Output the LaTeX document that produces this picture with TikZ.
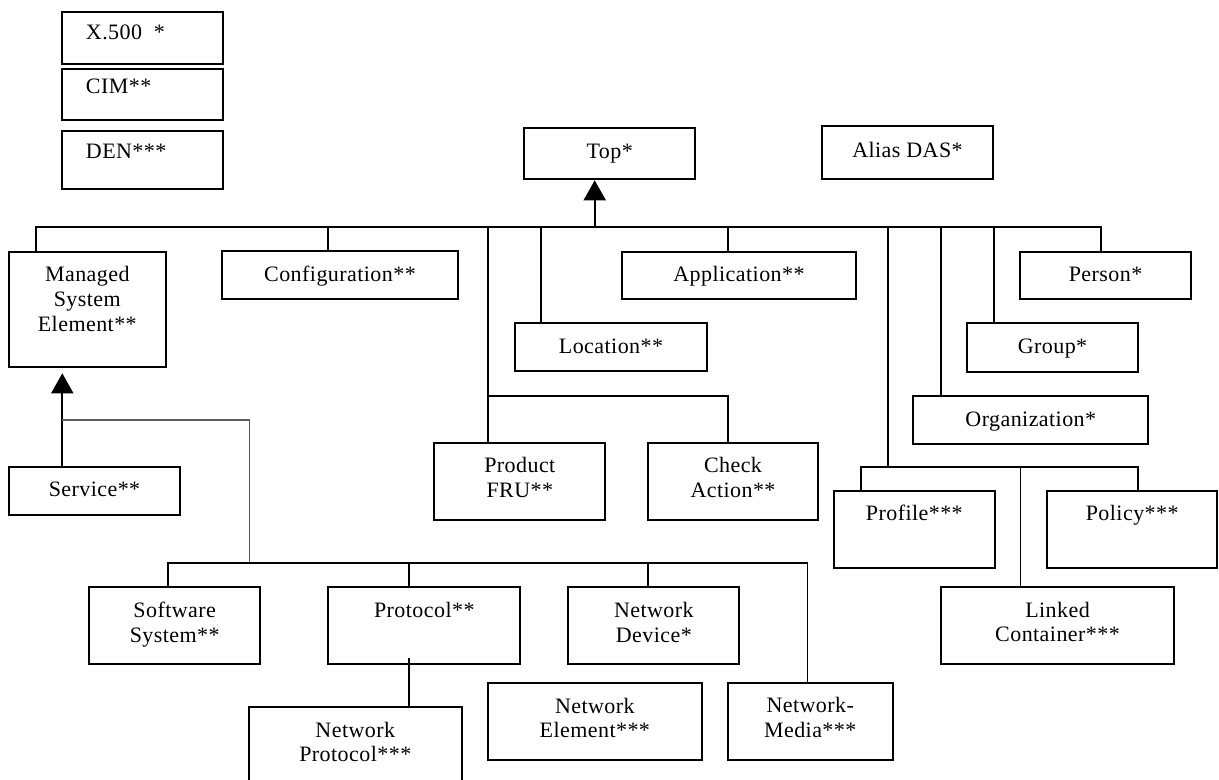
\documentclass[tikz,border=0pt]{standalone}
\usepackage{fontspec}
\setmainfont{Liberation Serif}[LetterSpace=2]
\usetikzlibrary{arrows.meta,fit}

\tikzset{
  box/.style={draw, line width=1.5pt, inner sep=0pt, rectangle},
  % anchored at the baseline of the last text line
  lbl/.style={anchor=base, align=center, inner sep=0pt,
    font=\fontsize{16.5}{18.5}\selectfont},
  keylbl/.style={anchor=base west, inner sep=0pt,
    font=\fontsize{16.5}{18.5}\selectfont},
  conn/.style={line width=1.4pt},
  thinconn/.style={line width=1pt, draw=black!65},
  isa/.style={line width=1.4pt, -{Triangle[width=16.5pt,length=15pt]}},
}

\begin{document}
\begin{tikzpicture}[x=0.75pt, y=-0.75pt]
\useasboundingbox (0,0) rectangle (1219,780);
\clip (0,0) rectangle (1219,780);

% key boxes
\node[box, fit={(62.3,12.3) (222.7,64.3)}] (kx) {};
\node[box, fit={(62.3,68.7) (222.7,120)}] (kcim) {};
\node[box, fit={(62.3,131) (222.7,189.3)}] (kden) {};
\node[keylbl] (kx-t) at (85.7,39.3) {X.500\ \ *};
\node[keylbl] (kcim-t) at (85.7,94) {CIM**};
\node[keylbl] (kden-t) at (85.7,158.3) {DEN***};

% class boxes
\node[box, fit={(524.3,128.3) (695,179.3)}] (top) {};
\node[lbl] (top-t) at (609.7,158.3) {Top*};
\node[box, fit={(821.7,125.7) (993.3,179.3)}] (alias) {};
\node[lbl] (alias-t) at (907.5,157.5) {Alias DAS*};

\node[box, fit={(9,251.7) (165.7,366.7)}] (mse) {};
\node[lbl] (mse-t) at (87.3,331) {Managed\\System\\Element**};
\node[box, fit={(221.7,251.3) (458.3,299.3)}] (conf) {};
\node[lbl] (conf-t) at (340,281.7) {Configuration**};
\node[box, fit={(621.7,251.7) (856.3,299.3)}] (app) {};
\node[lbl] (app-t) at (739,281.7) {Application**};
\node[box, fit={(1020.3,251.7) (1190.7,299)}] (person) {};
\node[lbl] (person-t) at (1105.5,281.7) {Person*};
\node[box, fit={(515,323.3) (707,371.3)}] (loc) {};
\node[lbl] (loc-t) at (611,353.3) {Location**};
\node[box, fit={(967,323.3) (1138,371.7)}] (group) {};
\node[lbl] (group-t) at (1052.5,353.3) {Group*};
\node[box, fit={(913.3,395.7) (1148.3,443.7)}] (org) {};
\node[lbl] (org-t) at (1030.8,426) {Organization*};
\node[box, fit={(434.3,443.3) (605.3,520)}] (fru) {};
\node[lbl] (fru-t) at (519.8,497.3) {Product\\FRU**};
\node[box, fit={(647.7,443.3) (818.3,520)}] (check) {};
\node[lbl] (check-t) at (733,497.3) {Check\\Action**};
\node[box, fit={(9,467.3) (180,515)}] (service) {};
\node[lbl] (service-t) at (94.5,496.7) {Service**};
\node[box, fit={(834,491) (994.5,567.7)}] (profile) {};
\node[lbl] (profile-t) at (914.3,520.7) {Profile***};
\node[box, fit={(1047,491) (1217.3,567.7)}] (policy) {};
\node[lbl] (policy-t) at (1132.2,520.7) {Policy***};
\node[box, fit={(940.7,587.3) (1174.3,664)}] (linked) {};
\node[lbl] (linked-t) at (1057.5,641.7) {Linked\\Container***};
\node[box, fit={(89,586.7) (260.3,664)}] (soft) {};
\node[lbl] (soft-t) at (174.7,642) {Software\\System**};
\node[box, fit={(328.3,586.7) (520.3,664)}] (proto) {};
\node[lbl] (proto-t) at (424.3,617.7) {Protocol**};
\node[box, fit={(568.3,586.7) (739.3,664)}] (ndev) {};
\node[lbl] (ndev-t) at (653.8,642) {Network\\Device*};
\node[box, fit={(249,706.7) (461.7,800)}] (nproto) {};
\node[lbl] (nproto-t) at (355.3,761.7) {Network\\Protocol***};
\node[box, fit={(488,683.3) (701.7,760)}] (nelem) {};
\node[lbl] (nelem-t) at (594.8,737.7) {Network\\Element***};
\node[box, fit={(727.7,683.3) (892.7,760)}] (nmedia) {};
\node[lbl] (nmedia-t) at (810.2,737.5) {Network-\\Media***};

% junctions on the main bus
\coordinate (jmse) at (35.7,227.3);
\coordinate (jconf) at (328.3,227.3);
\coordinate (jprod) at (488.3,227.3);
\coordinate (jloc) at (540.7,227.3);
\coordinate (jtop) at (594.7,227.3);
\coordinate (japp) at (728,227.3);
\coordinate (jprof) at (887.7,227.3);
\coordinate (jorg) at (941.3,227.3);
\coordinate (jgroup) at (994.3,227.3);
\coordinate (jperson) at (1101,227.3);

% main bus and its drops
\draw[conn] (jmse |- mse.north) -- (jmse) -- (jperson) -- (jperson |- person.north);
\draw[conn] (jconf) -- (jconf |- conf.north);
\draw[conn] (jloc) -- (jloc |- loc.north);
\draw[conn] (japp) -- (japp |- app.north);
\draw[conn] (jorg) -- (jorg |- org.north);
\draw[conn] (jgroup) -- (jgroup |- group.north);
\draw[isa] (jtop) -- (jtop |- top.south);

% Product FRU / Check Action branch
\coordinate (bprod) at (488.3,395.7);
\coordinate (bcheck) at (727.7,395.7);
\draw[conn] (jprod) -- (jprod |- fru.north);
\draw[conn] (bprod) -- (bcheck) -- (bcheck |- check.north);

% Profile / Linked Container / Policy branch
\coordinate (bprof) at (887.7,467.3);
\coordinate (bprofL) at (860.7,467.3);
\coordinate (blinked) at (1020.5,467.3);
\coordinate (bpolicy) at (1137.7,467.3);
\draw[conn] (jprof) -- (bprof);
\draw[conn] (bprofL |- profile.north) -- (bprofL) -- (bpolicy) -- (bpolicy |- policy.north);
\draw[conn] (blinked) -- (blinked |- linked.north);

% Managed System Element subtree
\coordinate (mtip) at (62.3,373.3);
\coordinate (mj) at (62.3,420);
\coordinate (mk) at (249.3,420);
\coordinate (sbus) at (249.3,562.7);
\draw[isa] (mtip |- service.north) -- (mtip);
\draw[thinconn] (mj) -- (mk) -- (sbus);

\coordinate (ssoft) at (168.3,562.7);
\coordinate (sproto) at (408.7,562.7);
\coordinate (sdev) at (648.3,562.7);
\coordinate (smedia) at (807.5,562.7);
\draw[conn] (ssoft |- soft.north) -- (ssoft) -- (smedia) -- (smedia |- nmedia.north);
\draw[conn] (sproto) -- (sproto |- proto.north);
\draw[conn] (sdev) -- (sdev |- ndev.north);

% Protocol to Network Protocol
\coordinate (pdrop) at (408.7,658);
\draw[conn] (pdrop) -- (pdrop |- nproto.north);
\end{tikzpicture}
\end{document}
